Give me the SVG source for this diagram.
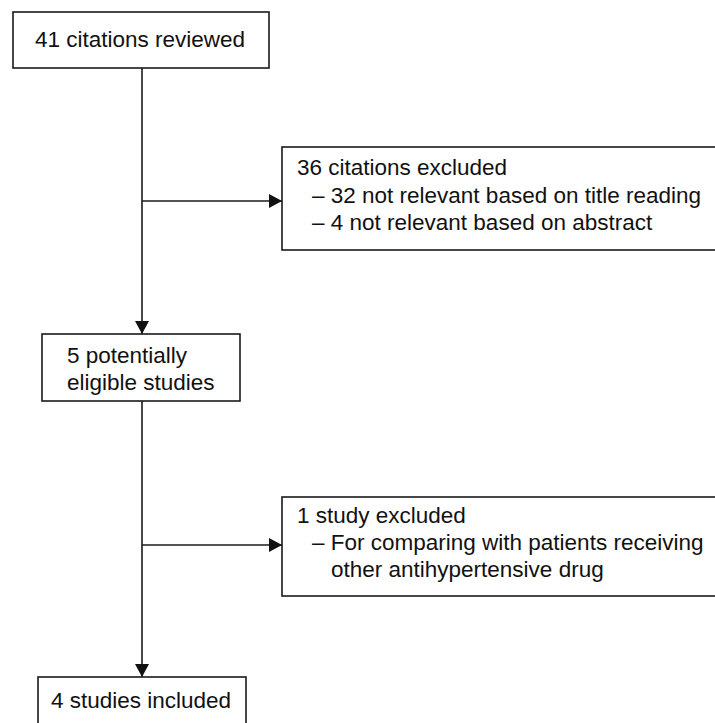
<svg xmlns="http://www.w3.org/2000/svg" width="715" height="723" viewBox="0 0 715 723">
<style>
.box{fill:#fff;stroke:#1a1a1a;stroke-width:1.6}
.t{font-family:"Liberation Sans",Arial,sans-serif;font-size:22.5px;fill:#111}
.c{stroke:#1a1a1a;stroke-width:1.6;fill:none}
</style>
<defs>
<marker id="ah" markerUnits="userSpaceOnUse" markerWidth="14" markerHeight="14" refX="13" refY="7" orient="auto">
<path d="M0,0 L13,7 L0,14 Z" fill="#111"/>
</marker>
</defs>
<rect width="715" height="723" fill="#fff"/>
<g id="connectors">
<line class="c" x1="142" y1="68" x2="142" y2="334" marker-end="url(#ah)"/>
<line class="c" x1="142" y1="201" x2="282" y2="201" marker-end="url(#ah)"/>
<line class="c" x1="142" y1="401" x2="142" y2="677" marker-end="url(#ah)"/>
<line class="c" x1="142" y1="545" x2="282" y2="545" marker-end="url(#ah)"/>
</g>
<g id="n1">
<rect class="box" x="13" y="12" width="256" height="56"/>
<text class="t" x="35" y="47">41 citations reviewed</text>
</g>
<g id="n2">
<rect class="box" x="282" y="147" width="445" height="103"/>
<text class="t" x="297" y="175">36 citations excluded</text>
<text class="t" x="312" y="203">– 32 not relevant based on title reading</text>
<text class="t" x="312" y="230">– 4 not relevant based on abstract</text>
</g>
<g id="n3">
<rect class="box" x="42" y="334" width="198" height="67"/>
<text class="t" x="67" y="363">5 potentially</text>
<text class="t" x="67" y="390">eligible studies</text>
</g>
<g id="n4">
<rect class="box" x="282" y="497" width="445" height="99"/>
<text class="t" x="297" y="523">1 study excluded</text>
<text class="t" x="312" y="550">– For comparing with patients receiving</text>
<text class="t" x="331" y="577">other antihypertensive drug</text>
</g>
<g id="n5">
<rect class="box" x="38" y="677" width="208" height="60"/>
<text class="t" x="51" y="708">4 studies included</text>
</g>
</svg>
